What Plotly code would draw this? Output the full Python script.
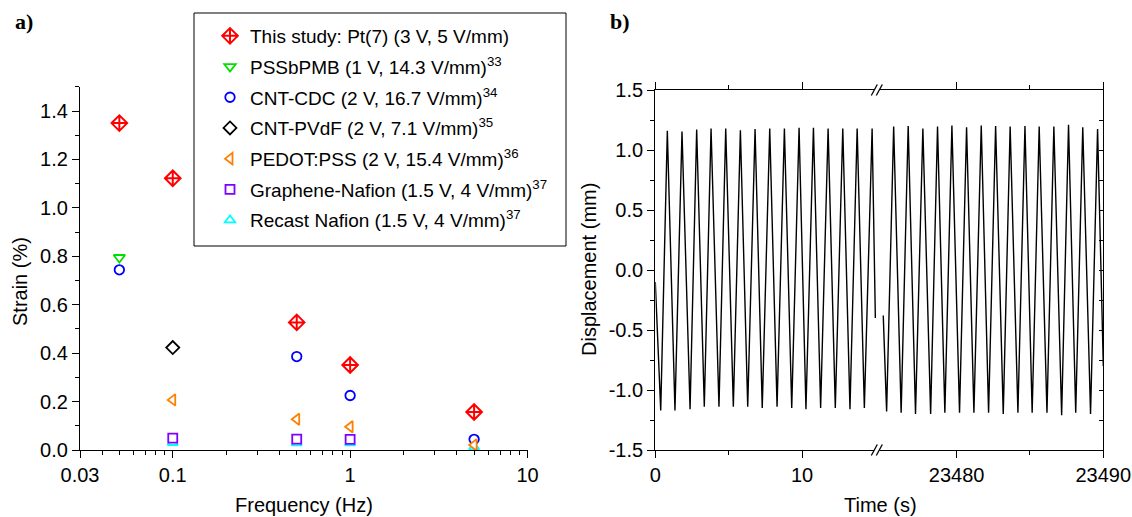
import math
import plotly.graph_objects as go

W, H = 1132, 517

# ---------------- panel a data ----------------
freq_this = [0.05, 0.1, 0.5, 1, 5]
strain_this = [1.35, 1.122, 0.527, 0.351, 0.157]
freq_pss = [0.05]
strain_pss = [0.795]
freq_cdc = [0.05, 0.5, 1, 5]
strain_cdc = [0.744, 0.386, 0.225, 0.044]
freq_pvdf = [0.1]
strain_pvdf = [0.423]
freq_pedot = [0.1, 0.5, 1, 5]
strain_pedot = [0.207, 0.127, 0.096, 0.021]
freq_gn = [0.1, 0.5, 1]
strain_gn = [0.049, 0.045, 0.044]
freq_rn = [0.1, 0.5, 1, 5]
strain_rn = [0.03, 0.028, 0.028, 0.012]

names = [
    "This study: Pt(7) (3 V, 5 V/mm)",
    "PSSbPMB (1 V, 14.3 V/mm)<sup>33</sup>",
    "CNT-CDC (2 V, 16.7 V/mm)<sup>34</sup>",
    "CNT-PVdF (2 V, 7.1 V/mm)<sup>35</sup>",
    "PEDOT:PSS (2 V, 15.4 V/mm)<sup>36</sup>",
    "Graphene-Nafion (1.5 V, 4 V/mm)<sup>37</sup>",
    "Recast Nafion (1.5 V, 4 V/mm)<sup>37</sup>",
]

x_ticks_a = [0.03, 0.1, 1, 10]
x_ticktext_a = ["0.03", "0.1", "1", "10"]
y_ticks_a = [0.0, 0.2, 0.4, 0.6, 0.8, 1.0, 1.2, 1.4]

# ---------------- panel b data ----------------
left_start = (0.0, -0.10)
left_end = (15.0, -0.40)
left_trough_t = [0.37, 1.34, 2.37, 3.34, 4.34, 5.32, 6.30, 7.29, 8.30, 9.30, 10.27, 11.27, 12.27, 13.27, 14.25]
left_trough_v = [-1.17, -1.17, -1.16, -1.14, -1.14, -1.14, -1.14, -1.15, -1.14, -1.15, -1.16, -1.15, -1.15, -1.16, -1.15]
left_peak_t = [0.82, 1.82, 2.82, 3.80, 4.80, 5.80, 6.80, 7.80, 8.80, 9.80, 10.78, 11.78, 12.78, 13.76, 14.78]
left_peak_v = [1.16, 1.155, 1.17, 1.18, 1.18, 1.165, 1.175, 1.18, 1.18, 1.185, 1.185, 1.18, 1.18, 1.18, 1.18]

right_start = (23475.00, -0.38)
right_end = (23490.0, -0.80)
right_trough_t = [23475.23, 23476.22, 23477.20, 23478.23, 23479.20, 23480.20, 23481.18, 23482.18,
                  23483.18, 23484.18, 23485.15, 23486.16, 23487.16, 23488.12, 23489.13]
right_trough_v = [-1.18, -1.19, -1.20, -1.20, -1.19, -1.19, -1.19, -1.19, -1.20, -1.19, -1.19, -1.19, -1.21, -1.19, -1.20]
right_peak_t = [23475.71, 23476.70, 23477.70, 23478.70, 23479.68, 23480.68, 23481.68, 23482.66,
                23483.65, 23484.66, 23485.63, 23486.63, 23487.63, 23488.60, 23489.61]
right_peak_v = [1.195, 1.2, 1.18, 1.195, 1.205, 1.19, 1.205, 1.2, 1.195, 1.2, 1.195, 1.195, 1.21, 1.19, 1.175]

y_ticks_b = [-1.5, -1.0, -0.5, 0.0, 0.5, 1.0, 1.5]
y_ticktext_b = ["-1.5", "-1.0", "-0.5", "0.0", "0.5", "1.0", "1.5"]


def px(x):
    return x / W


def py(y):
    return 1 - y / H


def zigzag(start, tt, tv, pt, pv, end):
    xs, ys = [start[0]], [start[1]]
    for a, b, c, d in zip(tt, tv, pt, pv):
        xs += [a, c]
        ys += [b, d]
    xs.append(end[0])
    ys.append(end[1])
    return xs, ys


FONT = "Liberation Sans, Arial, sans-serif"
BLK = "black"
LW = 1.3

fig = go.Figure()

series = [
    (names[0], freq_this, strain_this, "diamond-cross", "#FF0000", 12, 2.0, 1),
    (names[1], freq_pss, strain_pss, "triangle-down", "#00E000", 10, 1.8, 2),
    (names[2], freq_cdc, strain_cdc, "circle", "#0000FF", 9.5, 1.8, 3),
    (names[3], freq_pvdf, strain_pvdf, "diamond", "#000000", 10, 1.8, 4),
    (names[6], freq_rn, strain_rn, "triangle-up", "#00FFFF", 9, 1.8, 7),
    (names[5], freq_gn, strain_gn, "square", "#8000FF", 9, 1.8, 6),
    (names[4], freq_pedot, strain_pedot, "triangle-left", "#FF8000", 10, 1.8, 5),
]
for name, f, s, sym, col, size, lw, rank in series:
    fig.add_trace(go.Scatter(
        x=f, y=s, mode="markers", name=name, legendrank=rank,
        legendgroup="g%d" % rank,
        marker=dict(symbol=sym, size=size, color="white",
                    line=dict(color=col, width=lw)),
        xaxis="x", yaxis="y",
    ))

lx, ly = zigzag(left_start, left_trough_t, left_trough_v, left_peak_t, left_peak_v, left_end)
rx, ry = zigzag(right_start, right_trough_t, right_trough_v, right_peak_t, right_peak_v, right_end)
fig.add_trace(go.Scatter(x=lx, y=ly, mode="lines", line=dict(color=BLK, width=1.4),
                         showlegend=False, xaxis="x2", yaxis="y2"))
fig.add_trace(go.Scatter(x=rx, y=ry, mode="lines", line=dict(color=BLK, width=1.4),
                         showlegend=False, xaxis="x3", yaxis="y3"))

tickfont = dict(family=FONT, size=20, color=BLK)
common = dict(showline=True, linecolor=BLK, linewidth=LW, showgrid=False, zeroline=False,
              tickcolor=BLK, tickwidth=LW, tickfont=tickfont, automargin=False)

# panel a axes
dom_ax = [px(80), px(527.5)]
dom_ay = [py(450), py(86.8)]
fig.update_layout(
    xaxis=dict(domain=dom_ax, type="log", range=[math.log10(0.03), 1], anchor="y",
               ticks="outside", ticklen=7, tickmode="array", tickvals=x_ticks_a, ticktext=x_ticktext_a,
               minor=dict(tickmode="array",
                          tickvals=[0.04, 0.05, 0.06, 0.07, 0.08, 0.09, 0.2, 0.3, 0.4, 0.5, 0.6, 0.7, 0.8, 0.9,
                                    2, 3, 4, 5, 6, 7, 8, 9],
                          ticks="outside", ticklen=4, tickwidth=LW, tickcolor=BLK, showgrid=False),
               **common),
    yaxis=dict(domain=dom_ay, range=[0, 1.5], anchor="x", ticks="outside", ticklen=7,
               tickmode="array", tickvals=y_ticks_a, ticktext=["%.1f" % v for v in y_ticks_a],
               minor=dict(tickmode="array", tickvals=[0.1, 0.3, 0.5, 0.7, 0.9, 1.1, 1.3, 1.5],
                          ticks="outside", ticklen=4, tickwidth=LW, tickcolor=BLK, showgrid=False),
               **common),
    yaxis5=dict(domain=dom_ay, range=[0, 1.5], anchor="x", overlaying="y", side="right",
                ticks="inside", ticklen=4, tickmode="array",
                tickvals=[0.1 * i for i in range(1, 15)], showticklabels=False, **common),
)

# panel b axes
xb_left, xb_break, xb_right = 655.3, 878.0, 1103.3
sec_per_px = 1 / 14.67
dom_by = [py(450), py(90)]
fig.update_layout(
    xaxis2=dict(domain=[px(xb_left), px(xb_break)], range=[0, (xb_break - xb_left) * sec_per_px],
                anchor="y2", mirror="ticks", ticks="outside", ticklen=7, tickmode="array",
                tickvals=[0, 10], ticktext=["0", "10"],
                minor=dict(tickmode="array", tickvals=[5], ticks="outside", ticklen=4,
                           tickwidth=LW, tickcolor=BLK, showgrid=False),
                **common),
    xaxis3=dict(domain=[px(xb_break), px(xb_right)],
                range=[23490 - (xb_right - xb_break) * sec_per_px, 23490],
                anchor="y3", mirror="ticks", ticks="outside", ticklen=7, tickmode="array",
                tickvals=[23480, 23490], ticktext=["23480", "23490"],
                minor=dict(tickmode="array", tickvals=[23485], ticks="outside", ticklen=4,
                           tickwidth=LW, tickcolor=BLK, showgrid=False),
                **common),
    yaxis2=dict(domain=dom_by, range=[-1.5, 1.5], anchor="x2", ticks="outside", ticklen=7,
                tickmode="array", tickvals=y_ticks_b, ticktext=y_ticktext_b,
                minor=dict(tickmode="array", tickvals=[-1.25, -0.75, -0.25, 0.25, 0.75, 1.25],
                           ticks="outside", ticklen=4, tickwidth=LW, tickcolor=BLK, showgrid=False),
                **common),
    yaxis3=dict(domain=dom_by, range=[-1.5, 1.5], anchor="x3", side="right", ticks="inside",
                ticklen=4, tickmode="array", tickvals=[-1.25 + 0.25 * i for i in range(11)],
                showticklabels=False, **common),
)

shapes = []
# legend frame (white box covering the plot behind the legend)
shapes.append(dict(type="rect", xref="paper", yref="paper",
                   x0=px(194), x1=px(566), y0=py(246), y1=py(13),
                   fillcolor="white", line=dict(color=BLK, width=1), layer="above"))
# axis break marks
for yb in (90, 450):
    shapes.append(dict(type="rect", xref="paper", yref="paper",
                       x0=px(874.3), x1=px(879.5), y0=py(yb + 2), y1=py(yb - 2),
                       fillcolor="white", line=dict(width=0), layer="above"))
    for cx in (874.3, 879.3):
        shapes.append(dict(type="line", xref="paper", yref="paper",
                           x0=px(cx - 3), y0=py(yb + 5.5), x1=px(cx + 3), y1=py(yb - 5.5),
                           line=dict(color=BLK, width=1.3), layer="above"))

titlefont = dict(family=FONT, size=20, color=BLK)
serif = dict(family="Liberation Serif, Times New Roman, serif", size=22, color=BLK)
annotations = [
    dict(text="<b>a)</b>", x=px(13), y=py(21), xref="paper", yref="paper", showarrow=False,
         xanchor="left", yanchor="middle", font=serif),
    dict(text="<b>b)</b>", x=px(608), y=py(21), xref="paper", yref="paper", showarrow=False,
         xanchor="left", yanchor="middle", font=serif),
    dict(text="Strain (%)", x=px(20), y=py(282), xref="paper", yref="paper", showarrow=False,
         textangle=-90, xanchor="center", yanchor="middle", font=titlefont),
    dict(text="Frequency (Hz)", x=px(304), y=py(505), xref="paper", yref="paper", showarrow=False,
         xanchor="center", yanchor="middle", font=titlefont),
    dict(text="Displacement (mm)", x=px(589), y=py(270), xref="paper", yref="paper", showarrow=False,
         textangle=-90, xanchor="center", yanchor="middle", font=titlefont),
    dict(text="Time (s)", x=px(880), y=py(505), xref="paper", yref="paper", showarrow=False,
         xanchor="center", yanchor="middle", font=titlefont),
]

fig.update_layout(
    template="none",
    width=W, height=H, margin=dict(l=0, r=0, t=0, b=0, pad=0, autoexpand=False),
    paper_bgcolor="white", plot_bgcolor="white",
    shapes=shapes, annotations=annotations,
    showlegend=True,
    legend=dict(x=px(195), y=py(17), xanchor="left", yanchor="top",
                bgcolor="rgba(0,0,0,0)", borderwidth=0,
                font=dict(family=FONT, size=19, color=BLK),
                indentation=15, tracegroupgap=3, traceorder="grouped"),
)

fig.write_html(
    "out.html",
    config={"displayModeBar": False},
    post_script="document.body.style.margin='0px';document.documentElement.style.overflow='hidden';",
)
